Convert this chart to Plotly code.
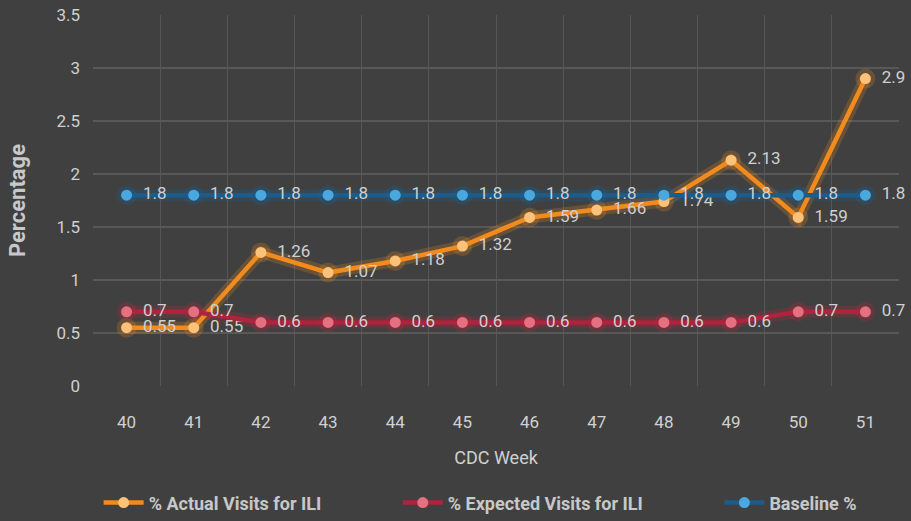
import plotly.graph_objects as go

weeks = [40, 41, 42, 43, 44, 45, 46, 47, 48, 49, 50, 51]
actual = [0.55, 0.55, 1.26, 1.07, 1.18, 1.32, 1.59, 1.66, 1.74, 2.13, 1.59, 2.9]
expected = [0.7, 0.7, 0.6, 0.6, 0.6, 0.6, 0.6, 0.6, 0.6, 0.6, 0.7, 0.7]
baseline = [1.8] * 12
series_names = ["% Actual Visits for ILI", "% Expected Visits for ILI", "Baseline %"]
y_ticks = [0, 0.5, 1, 1.5, 2, 2.5, 3, 3.5]
y_tick_labels = ["0", "0.5", "1", "1.5", "2", "2.5", "3", "3.5"]

FONT = "Roboto, Open Sans, sans-serif"
BG = "#404040"
TXT = "#d0d0d0"
PAD = "\u00a0" * 16

styles = [
    (actual, "#f28b1e", "#fdc27a", "rgba(240,140,26,0.22)"),
    (expected, "#b0223e", "#e66f80", "rgba(200,35,60,0.22)"),
    (baseline, "#1d5b88", "#4aa8e0", "rgba(28,94,140,0.32)"),
]

fig = go.Figure()
# soft glow layers
for vals, lc, mc, gc in styles:
    fig.add_trace(go.Scatter(
        x=weeks, y=vals, mode="lines+markers", showlegend=False, hoverinfo="skip",
        line=dict(color=gc, width=12), marker=dict(size=20, color=gc),
    ))

for i, ((vals, lc, mc, gc), name) in enumerate(zip(styles, series_names)):
    fig.add_trace(go.Scatter(
        x=weeks, y=vals, name=name + (PAD if i < 2 else ""), mode="lines+markers+text",
        line=dict(color=lc, width=4.5),
        marker=dict(size=11, color=mc),
        text=["  " + f"{v:g}" for v in vals],
        textposition="middle right",
        textfont=dict(family=FONT, size=17, color=TXT),
        cliponaxis=False,
    ))

fig.update_layout(
    width=911, height=521,
    paper_bgcolor=BG, plot_bgcolor=BG,
    margin=dict(l=93, r=12, t=15, b=135, autoexpand=False),
    font=dict(family=FONT, color=TXT, size=17),
    showlegend=True,
    legend=dict(orientation="h", x=0.007, xanchor="left", y=-0.315, yanchor="middle",
                itemwidth=40,
                font=dict(family=FONT, size=18, color="#c8c8c8", weight="bold"),
                bgcolor="rgba(0,0,0,0)"),
    xaxis=dict(
        range=[39.5, 51.5], tickvals=weeks, ticktext=[str(w) for w in weeks],
        showgrid=False, zeroline=False, showline=False, automargin=False,
        ticklabelstandoff=24,
        tickfont=dict(family=FONT, size=17, color=TXT),
        minor=dict(tick0=39.5, dtick=1, showgrid=True, gridcolor="#565656", gridwidth=1),
        title=dict(text="CDC Week", font=dict(family=FONT, size=18, color=TXT), standoff=20),
    ),
    yaxis=dict(
        range=[0, 3.5], tickvals=y_ticks, ticktext=y_tick_labels,
        showgrid=True, gridcolor="#585858", gridwidth=1.5, zeroline=False, showline=False,
        automargin=False,
        ticklabelstandoff=12,
        tickfont=dict(family=FONT, size=17, color=TXT),
        title=dict(text="<b>Percentage</b>", font=dict(family=FONT, size=22, color="#c8c8c8"), standoff=24),
    ),
)

fig.write_html("out.html", config={"displayModeBar": False},
               post_script="document.body.style.margin='0px';document.body.style.overflow='hidden';")
